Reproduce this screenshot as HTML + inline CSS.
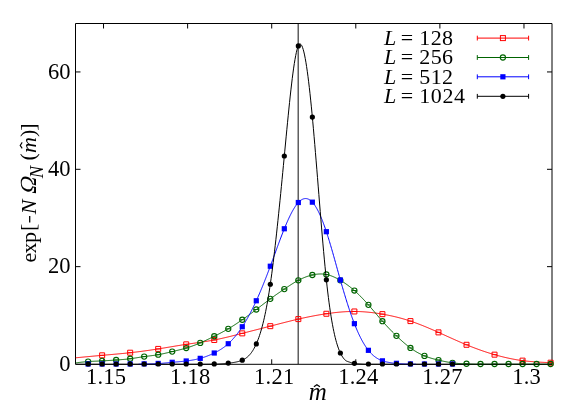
<!DOCTYPE html>
<html><head><meta charset="utf-8"><title>plot</title>
<style>html,body{margin:0;padding:0;background:#fff;overflow:hidden}svg{display:block;will-change:transform}text{font-family:"Liberation Serif",serif}</style>
</head><body>
<svg width="581" height="407" viewBox="0 0 581 407">
<rect width="581" height="407" fill="#fff"/>
<g stroke="#000" stroke-width="1" fill="none">
<path d="M75.50 23.50H552.00V364.30H75.50Z"/>
<path d="M103.53 23.50v5 M103.53 364.30v-5"/>
<path d="M187.62 23.50v5 M187.62 364.30v-5"/>
<path d="M271.71 23.50v5 M271.71 364.30v-5"/>
<path d="M355.79 23.50v5 M355.79 364.30v-5"/>
<path d="M439.88 23.50v5 M439.88 364.30v-5"/>
<path d="M523.97 23.50v5 M523.97 364.30v-5"/>
<path d="M75.50 266.65h5 M552.00 266.65h-5"/>
<path d="M75.50 169.30h5 M552.00 169.30h-5"/>
<path d="M75.50 71.95h5 M552.00 71.95h-5"/>
</g>
<g font-family="'Liberation Serif', serif" font-size="22.5" fill="#000">
<text x="70.6" y="370.60" text-anchor="end">0</text>
<text x="70.6" y="273.25" text-anchor="end">20</text>
<text x="70.6" y="175.90" text-anchor="end">40</text>
<text x="70.6" y="78.55" text-anchor="end">60</text>
<text x="106.13" y="384.2" text-anchor="middle" letter-spacing="0.25">1.15</text>
<text x="190.22" y="384.2" text-anchor="middle" letter-spacing="0.25">1.18</text>
<text x="274.31" y="384.2" text-anchor="middle" letter-spacing="0.25">1.21</text>
<text x="358.39" y="384.2" text-anchor="middle" letter-spacing="0.25">1.24</text>
<text x="442.48" y="384.2" text-anchor="middle" letter-spacing="0.25">1.27</text>
<text x="526.57" y="384.2" text-anchor="middle" letter-spacing="0.25">1.3</text>
</g>
<g font-family="'Liberation Serif', serif" fill="#000">
<text x="308.7" y="400" font-size="25" font-style="italic">m</text>
<path d="M313.9 386.7L316.9 384.8L319.9 386.7" fill="none" stroke="#000" stroke-width="1.3"/>
<g transform="translate(35.6 262.4) rotate(-90)" font-size="22">
<text x="0 8.9 19.4" y="0">exp</text>
<text x="31.3" y="-0.6">[</text>
<path d="M39.9 -5.9H46.5" stroke="#000" stroke-width="1.3" fill="none"/>
<text x="48.2" y="0" font-style="italic">N</text>
<text transform="translate(67.6 0) skewX(-13)" x="0" y="0" font-size="23">Ω</text>
<text x="84.2" y="7.8" font-style="italic" font-size="18.5">N</text>
<text x="102" y="-0.6">(</text>
<text x="109.4" y="0" font-style="italic">m</text>
<path d="M114 -13.4L117 -15.4L120 -13.4" fill="none" stroke="#000" stroke-width="1.1"/>
<text x="125.4" y="-0.6">)</text>
<text x="131.6" y="-0.6">]</text>
</g>
</g>
<g font-family="'Liberation Serif', serif" font-size="22" fill="#000">
<text y="44.5"><tspan x="384.1" font-style="italic">L</tspan><tspan x="400.7">=</tspan><tspan x="419.3" letter-spacing="0.35">128</tspan></text>
<text y="63.7"><tspan x="384.1" font-style="italic">L</tspan><tspan x="400.7">=</tspan><tspan x="419.3" letter-spacing="0.35">256</tspan></text>
<text y="83.7"><tspan x="384.1" font-style="italic">L</tspan><tspan x="400.7">=</tspan><tspan x="419.3" letter-spacing="0.35">512</tspan></text>
<text y="102.7"><tspan x="384.1" font-style="italic">L</tspan><tspan x="400.7">=</tspan><tspan x="419.3" letter-spacing="0.55">1024</tspan></text>
</g>
<path d="M477.3 38.1H528.6 M477.3 35.7v4.8 M528.6 35.7v4.8" stroke="#ff0000" stroke-width="1" fill="none"/>
<rect x="500.40" y="35.60" width="5" height="5" fill="none" stroke="#ff0000" stroke-width="1"/>
<path d="M477.3 57.5H528.6 M477.3 55.1v4.8 M528.6 55.1v4.8" stroke="#006400" stroke-width="1" fill="none"/>
<circle cx="502.90" cy="57.50" r="2.6" fill="none" stroke="#006400" stroke-width="1.1"/>
<path d="M477.3 76.8H528.6 M477.3 74.4v4.8 M528.6 74.4v4.8" stroke="#0000ff" stroke-width="1" fill="none"/>
<rect x="500.30" y="74.20" width="5.2" height="5.2" fill="#0000ff"/>
<path d="M477.3 96.3H528.6 M477.3 93.9v4.8 M528.6 93.9v4.8" stroke="#000000" stroke-width="1" fill="none"/>
<circle cx="502.90" cy="96.30" r="2.6" fill="#000000"/>
<path d="M298.17 23.50V364.00" stroke="#000" stroke-width="0.95" fill="none"/>
<clipPath id="c"><rect x="75.50" y="22.50" width="477.00" height="342.50"/></clipPath>
<path clip-path="url(#c)" d="M75.50,357.82 L76.18,357.76 L76.86,357.69 L77.55,357.63 L78.23,357.56 L78.91,357.50 L79.59,357.43 L80.27,357.37 L80.95,357.30 L81.64,357.24 L82.32,357.17 L83.00,357.11 L83.68,357.04 L84.36,356.98 L85.04,356.92 L85.73,356.85 L86.41,356.79 L87.09,356.72 L87.77,356.66 L88.45,356.59 L89.13,356.53 L89.82,356.47 L90.50,356.40 L91.18,356.34 L91.86,356.28 L92.54,356.21 L93.22,356.15 L93.91,356.09 L94.59,356.02 L95.27,355.96 L95.95,355.90 L96.63,355.84 L97.31,355.77 L98.00,355.71 L98.68,355.65 L99.36,355.59 L100.04,355.53 L100.72,355.47 L101.40,355.41 L102.09,355.35 L102.77,355.28 L103.45,355.22 L104.13,355.16 L104.81,355.10 L105.49,355.04 L106.18,354.98 L106.86,354.92 L107.54,354.87 L108.22,354.81 L108.90,354.75 L109.58,354.69 L110.27,354.63 L110.95,354.57 L111.63,354.51 L112.31,354.45 L112.99,354.38 L113.67,354.32 L114.36,354.26 L115.04,354.20 L115.72,354.14 L116.40,354.08 L117.08,354.02 L117.76,353.95 L118.45,353.89 L119.13,353.83 L119.81,353.76 L120.49,353.70 L121.17,353.63 L121.85,353.57 L122.54,353.50 L123.22,353.44 L123.90,353.37 L124.58,353.30 L125.26,353.23 L125.94,353.16 L126.63,353.09 L127.31,353.02 L127.99,352.95 L128.67,352.88 L129.35,352.80 L130.04,352.73 L130.72,352.65 L131.40,352.58 L132.08,352.50 L132.76,352.42 L133.44,352.34 L134.13,352.26 L134.81,352.18 L135.49,352.10 L136.17,352.02 L136.85,351.94 L137.53,351.85 L138.22,351.77 L138.90,351.68 L139.58,351.59 L140.26,351.51 L140.94,351.42 L141.62,351.33 L142.31,351.24 L142.99,351.15 L143.67,351.06 L144.35,350.96 L145.03,350.87 L145.71,350.78 L146.40,350.68 L147.08,350.59 L147.76,350.49 L148.44,350.39 L149.12,350.29 L149.80,350.19 L150.49,350.10 L151.17,350.00 L151.85,349.89 L152.53,349.79 L153.21,349.69 L153.89,349.59 L154.58,349.48 L155.26,349.38 L155.94,349.27 L156.62,349.17 L157.30,349.06 L157.98,348.95 L158.67,348.84 L159.35,348.74 L160.03,348.63 L160.71,348.52 L161.39,348.41 L162.07,348.29 L162.76,348.18 L163.44,348.07 L164.12,347.96 L164.80,347.85 L165.48,347.73 L166.16,347.62 L166.85,347.51 L167.53,347.39 L168.21,347.28 L168.89,347.17 L169.57,347.05 L170.25,346.94 L170.94,346.82 L171.62,346.71 L172.30,346.60 L172.98,346.48 L173.66,346.37 L174.34,346.25 L175.03,346.14 L175.71,346.03 L176.39,345.92 L177.07,345.80 L177.75,345.69 L178.43,345.58 L179.12,345.47 L179.80,345.36 L180.48,345.25 L181.16,345.14 L181.84,345.03 L182.53,344.92 L183.21,344.81 L183.89,344.71 L184.57,344.60 L185.25,344.50 L185.93,344.39 L186.62,344.29 L187.30,344.19 L187.98,344.08 L188.66,343.98 L189.34,343.88 L190.02,343.78 L190.71,343.68 L191.39,343.58 L192.07,343.48 L192.75,343.39 L193.43,343.29 L194.11,343.19 L194.80,343.09 L195.48,342.99 L196.16,342.89 L196.84,342.80 L197.52,342.70 L198.20,342.60 L198.89,342.50 L199.57,342.40 L200.25,342.30 L200.93,342.20 L201.61,342.09 L202.29,341.99 L202.98,341.89 L203.66,341.78 L204.34,341.68 L205.02,341.57 L205.70,341.46 L206.38,341.35 L207.07,341.24 L207.75,341.13 L208.43,341.01 L209.11,340.90 L209.79,340.78 L210.47,340.66 L211.16,340.54 L211.84,340.42 L212.52,340.29 L213.20,340.17 L213.88,340.04 L214.56,339.91 L215.25,339.78 L215.93,339.64 L216.61,339.50 L217.29,339.36 L217.97,339.22 L218.65,339.08 L219.34,338.93 L220.02,338.79 L220.70,338.64 L221.38,338.49 L222.06,338.34 L222.74,338.18 L223.43,338.03 L224.11,337.87 L224.79,337.71 L225.47,337.55 L226.15,337.39 L226.83,337.23 L227.52,337.07 L228.20,336.90 L228.88,336.74 L229.56,336.57 L230.24,336.41 L230.92,336.24 L231.61,336.07 L232.29,335.90 L232.97,335.73 L233.65,335.56 L234.33,335.38 L235.02,335.21 L235.70,335.04 L236.38,334.87 L237.06,334.69 L237.74,334.52 L238.42,334.34 L239.11,334.17 L239.79,333.99 L240.47,333.82 L241.15,333.64 L241.83,333.47 L242.51,333.29 L243.20,333.12 L243.88,332.94 L244.56,332.77 L245.24,332.59 L245.92,332.42 L246.60,332.25 L247.29,332.07 L247.97,331.90 L248.65,331.72 L249.33,331.55 L250.01,331.37 L250.69,331.20 L251.38,331.02 L252.06,330.85 L252.74,330.67 L253.42,330.50 L254.10,330.33 L254.78,330.15 L255.47,329.98 L256.15,329.80 L256.83,329.63 L257.51,329.45 L258.19,329.28 L258.87,329.10 L259.56,328.93 L260.24,328.75 L260.92,328.58 L261.60,328.40 L262.28,328.23 L262.96,328.05 L263.65,327.88 L264.33,327.70 L265.01,327.53 L265.69,327.35 L266.37,327.17 L267.05,327.00 L267.74,326.82 L268.42,326.65 L269.10,326.47 L269.78,326.29 L270.46,326.11 L271.14,325.94 L271.83,325.76 L272.51,325.58 L273.19,325.41 L273.87,325.23 L274.55,325.05 L275.23,324.87 L275.92,324.70 L276.60,324.52 L277.28,324.34 L277.96,324.16 L278.64,323.99 L279.32,323.81 L280.01,323.63 L280.69,323.46 L281.37,323.28 L282.05,323.11 L282.73,322.93 L283.41,322.76 L284.10,322.58 L284.78,322.41 L285.46,322.24 L286.14,322.06 L286.82,321.89 L287.51,321.72 L288.19,321.55 L288.87,321.38 L289.55,321.21 L290.23,321.04 L290.91,320.87 L291.60,320.70 L292.28,320.54 L292.96,320.37 L293.64,320.21 L294.32,320.04 L295.00,319.88 L295.69,319.72 L296.37,319.56 L297.05,319.40 L297.73,319.24 L298.41,319.08 L299.09,318.93 L299.78,318.77 L300.46,318.62 L301.14,318.47 L301.82,318.32 L302.50,318.17 L303.18,318.02 L303.87,317.87 L304.55,317.72 L305.23,317.58 L305.91,317.43 L306.59,317.29 L307.27,317.15 L307.96,317.01 L308.64,316.87 L309.32,316.73 L310.00,316.60 L310.68,316.46 L311.36,316.33 L312.05,316.20 L312.73,316.07 L313.41,315.94 L314.09,315.81 L314.77,315.68 L315.45,315.56 L316.14,315.43 L316.82,315.31 L317.50,315.19 L318.18,315.07 L318.86,314.95 L319.54,314.84 L320.23,314.72 L320.91,314.61 L321.59,314.50 L322.27,314.38 L322.95,314.28 L323.63,314.17 L324.32,314.06 L325.00,313.96 L325.68,313.85 L326.36,313.75 L327.04,313.65 L327.72,313.55 L328.41,313.46 L329.09,313.36 L329.77,313.27 L330.45,313.18 L331.13,313.09 L331.81,313.00 L332.50,312.91 L333.18,312.83 L333.86,312.75 L334.54,312.67 L335.22,312.59 L335.90,312.52 L336.59,312.44 L337.27,312.37 L337.95,312.30 L338.63,312.24 L339.31,312.17 L339.99,312.11 L340.68,312.05 L341.36,311.99 L342.04,311.94 L342.72,311.89 L343.40,311.84 L344.09,311.80 L344.77,311.75 L345.45,311.71 L346.13,311.67 L346.81,311.64 L347.49,311.61 L348.18,311.58 L348.86,311.55 L349.54,311.53 L350.22,311.51 L350.90,311.50 L351.58,311.48 L352.27,311.47 L352.95,311.47 L353.63,311.46 L354.31,311.47 L354.99,311.47 L355.67,311.48 L356.36,311.49 L357.04,311.50 L357.72,311.52 L358.40,311.54 L359.08,311.56 L359.76,311.59 L360.45,311.62 L361.13,311.66 L361.81,311.69 L362.49,311.73 L363.17,311.78 L363.85,311.82 L364.54,311.87 L365.22,311.93 L365.90,311.98 L366.58,312.04 L367.26,312.10 L367.94,312.16 L368.63,312.23 L369.31,312.30 L369.99,312.37 L370.67,312.45 L371.35,312.53 L372.03,312.61 L372.72,312.69 L373.40,312.78 L374.08,312.86 L374.76,312.95 L375.44,313.05 L376.12,313.14 L376.81,313.24 L377.49,313.34 L378.17,313.45 L378.85,313.55 L379.53,313.66 L380.21,313.77 L380.90,313.88 L381.58,314.00 L382.26,314.11 L382.94,314.23 L383.62,314.35 L384.30,314.48 L384.99,314.60 L385.67,314.73 L386.35,314.86 L387.03,314.99 L387.71,315.13 L388.39,315.26 L389.08,315.40 L389.76,315.54 L390.44,315.69 L391.12,315.83 L391.80,315.98 L392.48,316.13 L393.17,316.29 L393.85,316.44 L394.53,316.60 L395.21,316.76 L395.89,316.93 L396.58,317.09 L397.26,317.26 L397.94,317.44 L398.62,317.61 L399.30,317.79 L399.98,317.97 L400.67,318.15 L401.35,318.34 L402.03,318.53 L402.71,318.72 L403.39,318.91 L404.07,319.11 L404.76,319.31 L405.44,319.51 L406.12,319.72 L406.80,319.93 L407.48,320.14 L408.16,320.35 L408.85,320.57 L409.53,320.79 L410.21,321.02 L410.89,321.24 L411.57,321.47 L412.25,321.71 L412.94,321.94 L413.62,322.18 L414.30,322.43 L414.98,322.67 L415.66,322.92 L416.34,323.17 L417.03,323.42 L417.71,323.68 L418.39,323.94 L419.07,324.20 L419.75,324.46 L420.43,324.72 L421.12,324.99 L421.80,325.26 L422.48,325.53 L423.16,325.81 L423.84,326.08 L424.52,326.36 L425.21,326.64 L425.89,326.92 L426.57,327.21 L427.25,327.49 L427.93,327.78 L428.61,328.07 L429.30,328.36 L429.98,328.65 L430.66,328.94 L431.34,329.23 L432.02,329.53 L432.70,329.83 L433.39,330.12 L434.07,330.42 L434.75,330.72 L435.43,331.02 L436.11,331.33 L436.79,331.63 L437.48,331.93 L438.16,332.24 L438.84,332.54 L439.52,332.85 L440.20,333.15 L440.88,333.46 L441.57,333.77 L442.25,334.08 L442.93,334.38 L443.61,334.69 L444.29,335.00 L444.97,335.31 L445.66,335.62 L446.34,335.93 L447.02,336.24 L447.70,336.55 L448.38,336.85 L449.07,337.16 L449.75,337.47 L450.43,337.78 L451.11,338.08 L451.79,338.39 L452.47,338.70 L453.16,339.00 L453.84,339.31 L454.52,339.61 L455.20,339.92 L455.88,340.22 L456.56,340.52 L457.25,340.82 L457.93,341.12 L458.61,341.42 L459.29,341.72 L459.97,342.01 L460.65,342.31 L461.34,342.60 L462.02,342.90 L462.70,343.19 L463.38,343.48 L464.06,343.77 L464.74,344.05 L465.43,344.34 L466.11,344.62 L466.79,344.90 L467.47,345.18 L468.15,345.46 L468.83,345.73 L469.52,346.01 L470.20,346.28 L470.88,346.55 L471.56,346.82 L472.24,347.08 L472.92,347.35 L473.61,347.61 L474.29,347.87 L474.97,348.13 L475.65,348.38 L476.33,348.64 L477.01,348.89 L477.70,349.14 L478.38,349.39 L479.06,349.64 L479.74,349.88 L480.42,350.12 L481.10,350.36 L481.79,350.60 L482.47,350.84 L483.15,351.07 L483.83,351.30 L484.51,351.53 L485.19,351.76 L485.88,351.99 L486.56,352.21 L487.24,352.43 L487.92,352.65 L488.60,352.87 L489.28,353.08 L489.97,353.29 L490.65,353.50 L491.33,353.71 L492.01,353.92 L492.69,354.12 L493.37,354.32 L494.06,354.52 L494.74,354.72 L495.42,354.91 L496.10,355.10 L496.78,355.29 L497.46,355.48 L498.15,355.67 L498.83,355.85 L499.51,356.03 L500.19,356.21 L500.87,356.38 L501.56,356.56 L502.24,356.73 L502.92,356.89 L503.60,357.06 L504.28,357.22 L504.96,357.38 L505.65,357.54 L506.33,357.70 L507.01,357.85 L507.69,358.00 L508.37,358.15 L509.05,358.30 L509.74,358.44 L510.42,358.58 L511.10,358.72 L511.78,358.85 L512.46,358.99 L513.14,359.12 L513.83,359.25 L514.51,359.37 L515.19,359.50 L515.87,359.62 L516.55,359.74 L517.23,359.85 L517.92,359.97 L518.60,360.08 L519.28,360.18 L519.96,360.29 L520.64,360.38 L521.32,360.48 L522.01,360.57 L522.69,360.66 L523.37,360.74 L524.05,360.82 L524.73,360.90 L525.41,360.98 L526.10,361.05 L526.78,361.12 L527.46,361.19 L528.14,361.26 L528.82,361.33 L529.50,361.39 L530.19,361.45 L530.87,361.51 L531.55,361.57 L532.23,361.62 L532.91,361.68 L533.59,361.73 L534.28,361.78 L534.96,361.83 L535.64,361.88 L536.32,361.93 L537.00,361.97 L537.68,362.02 L538.37,362.06 L539.05,362.11 L539.73,362.15 L540.41,362.19 L541.09,362.23 L541.77,362.27 L542.46,362.30 L543.14,362.34 L543.82,362.38 L544.50,362.41 L545.18,362.44 L545.86,362.48 L546.55,362.51 L547.23,362.54 L547.91,362.58 L548.59,362.61 L549.27,362.65 L549.95,362.68 L550.64,362.72 L551.32,362.75 L552.00,362.77" fill="none" stroke="#ff0000" stroke-width="1" stroke-linejoin="round"/>
<path d="M99.63 352.84h5v5h-5z M99.63 355.34h5" fill="none" stroke="#ff0000" stroke-width="1"/>
<path d="M127.66 350.21h5v5h-5z M127.66 352.71h5" fill="none" stroke="#ff0000" stroke-width="1"/>
<path d="M155.69 346.42h5v5h-5z M155.69 348.92h5" fill="none" stroke="#ff0000" stroke-width="1"/>
<path d="M183.72 341.85h5v5h-5z M183.72 344.35h5" fill="none" stroke="#ff0000" stroke-width="1"/>
<path d="M211.75 337.47h5v5h-5z M211.75 339.97h5" fill="none" stroke="#ff0000" stroke-width="1"/>
<path d="M239.78 330.86h5v5h-5z M239.78 333.36h5" fill="none" stroke="#ff0000" stroke-width="1"/>
<path d="M267.80 323.66h5v5h-5z M267.80 326.16h5" fill="none" stroke="#ff0000" stroke-width="1"/>
<path d="M295.83 316.60h5v5h-5z M295.83 319.10h5" fill="none" stroke="#ff0000" stroke-width="1"/>
<path d="M323.86 311.25h5v5h-5z M323.86 313.75h5" fill="none" stroke="#ff0000" stroke-width="1"/>
<path d="M351.89 308.97h5v5h-5z M351.89 311.47h5" fill="none" stroke="#ff0000" stroke-width="1"/>
<path d="M379.92 311.64h5v5h-5z M379.92 314.14h5" fill="none" stroke="#ff0000" stroke-width="1"/>
<path d="M407.95 318.60h5v5h-5z M407.95 321.10h5" fill="none" stroke="#ff0000" stroke-width="1"/>
<path d="M435.98 329.88h5v5h-5z M435.98 332.38h5" fill="none" stroke="#ff0000" stroke-width="1"/>
<path d="M464.01 342.29h5v5h-5z M464.01 344.79h5" fill="none" stroke="#ff0000" stroke-width="1"/>
<path d="M492.04 352.16h5v5h-5z M492.04 354.66h5" fill="none" stroke="#ff0000" stroke-width="1"/>
<path d="M520.07 358.14h5v5h-5z M520.07 360.64h5" fill="none" stroke="#ff0000" stroke-width="1"/>
<path d="M548.10 360.19h5v5h-5z M548.10 362.69h5" fill="none" stroke="#ff0000" stroke-width="1"/>
<path clip-path="url(#c)" d="M75.50,363.01 L76.18,362.90 L76.86,362.79 L77.55,362.69 L78.23,362.58 L78.91,362.49 L79.59,362.41 L80.27,362.33 L80.95,362.25 L81.64,362.17 L82.32,362.10 L83.00,362.02 L83.68,361.95 L84.36,361.89 L85.04,361.82 L85.73,361.76 L86.41,361.70 L87.09,361.65 L87.77,361.59 L88.45,361.54 L89.13,361.50 L89.82,361.45 L90.50,361.41 L91.18,361.38 L91.86,361.34 L92.54,361.31 L93.22,361.27 L93.91,361.24 L94.59,361.21 L95.27,361.18 L95.95,361.15 L96.63,361.13 L97.31,361.10 L98.00,361.07 L98.68,361.04 L99.36,361.01 L100.04,360.98 L100.72,360.95 L101.40,360.92 L102.09,360.89 L102.77,360.85 L103.45,360.82 L104.13,360.78 L104.81,360.75 L105.49,360.71 L106.18,360.67 L106.86,360.63 L107.54,360.59 L108.22,360.55 L108.90,360.50 L109.58,360.46 L110.27,360.42 L110.95,360.37 L111.63,360.33 L112.31,360.28 L112.99,360.23 L113.67,360.19 L114.36,360.14 L115.04,360.09 L115.72,360.04 L116.40,359.99 L117.08,359.94 L117.76,359.90 L118.45,359.85 L119.13,359.80 L119.81,359.75 L120.49,359.69 L121.17,359.64 L121.85,359.59 L122.54,359.53 L123.22,359.47 L123.90,359.42 L124.58,359.35 L125.26,359.29 L125.94,359.22 L126.63,359.16 L127.31,359.08 L127.99,359.01 L128.67,358.93 L129.35,358.85 L130.04,358.76 L130.72,358.67 L131.40,358.58 L132.08,358.48 L132.76,358.38 L133.44,358.28 L134.13,358.18 L134.81,358.07 L135.49,357.96 L136.17,357.86 L136.85,357.75 L137.53,357.64 L138.22,357.53 L138.90,357.42 L139.58,357.31 L140.26,357.20 L140.94,357.09 L141.62,356.98 L142.31,356.88 L142.99,356.78 L143.67,356.68 L144.35,356.58 L145.03,356.49 L145.71,356.40 L146.40,356.31 L147.08,356.22 L147.76,356.14 L148.44,356.05 L149.12,355.97 L149.80,355.89 L150.49,355.80 L151.17,355.72 L151.85,355.63 L152.53,355.54 L153.21,355.46 L153.89,355.36 L154.58,355.27 L155.26,355.17 L155.94,355.07 L156.62,354.97 L157.30,354.86 L157.98,354.74 L158.67,354.62 L159.35,354.50 L160.03,354.37 L160.71,354.24 L161.39,354.10 L162.07,353.96 L162.76,353.81 L163.44,353.66 L164.12,353.51 L164.80,353.36 L165.48,353.20 L166.16,353.04 L166.85,352.88 L167.53,352.72 L168.21,352.56 L168.89,352.39 L169.57,352.23 L170.25,352.06 L170.94,351.90 L171.62,351.74 L172.30,351.57 L172.98,351.41 L173.66,351.25 L174.34,351.09 L175.03,350.93 L175.71,350.77 L176.39,350.60 L177.07,350.44 L177.75,350.28 L178.43,350.11 L179.12,349.95 L179.80,349.78 L180.48,349.61 L181.16,349.44 L181.84,349.26 L182.53,349.08 L183.21,348.90 L183.89,348.71 L184.57,348.52 L185.25,348.33 L185.93,348.13 L186.62,347.93 L187.30,347.72 L187.98,347.50 L188.66,347.28 L189.34,347.06 L190.02,346.83 L190.71,346.60 L191.39,346.36 L192.07,346.12 L192.75,345.87 L193.43,345.62 L194.11,345.37 L194.80,345.11 L195.48,344.84 L196.16,344.57 L196.84,344.30 L197.52,344.03 L198.20,343.75 L198.89,343.46 L199.57,343.17 L200.25,342.88 L200.93,342.59 L201.61,342.29 L202.29,341.98 L202.98,341.68 L203.66,341.37 L204.34,341.06 L205.02,340.74 L205.70,340.42 L206.38,340.10 L207.07,339.78 L207.75,339.46 L208.43,339.13 L209.11,338.80 L209.79,338.47 L210.47,338.14 L211.16,337.80 L211.84,337.47 L212.52,337.13 L213.20,336.79 L213.88,336.45 L214.56,336.11 L215.25,335.77 L215.93,335.43 L216.61,335.09 L217.29,334.75 L217.97,334.40 L218.65,334.05 L219.34,333.70 L220.02,333.35 L220.70,333.00 L221.38,332.64 L222.06,332.28 L222.74,331.92 L223.43,331.55 L224.11,331.18 L224.79,330.80 L225.47,330.43 L226.15,330.04 L226.83,329.66 L227.52,329.26 L228.20,328.87 L228.88,328.47 L229.56,328.06 L230.24,327.65 L230.92,327.23 L231.61,326.81 L232.29,326.38 L232.97,325.96 L233.65,325.52 L234.33,325.08 L235.02,324.64 L235.70,324.20 L236.38,323.75 L237.06,323.30 L237.74,322.84 L238.42,322.38 L239.11,321.92 L239.79,321.45 L240.47,320.99 L241.15,320.52 L241.83,320.04 L242.51,319.57 L243.20,319.09 L243.88,318.61 L244.56,318.13 L245.24,317.65 L245.92,317.16 L246.60,316.67 L247.29,316.18 L247.97,315.69 L248.65,315.20 L249.33,314.70 L250.01,314.20 L250.69,313.70 L251.38,313.20 L252.06,312.69 L252.74,312.19 L253.42,311.68 L254.10,311.17 L254.78,310.66 L255.47,310.14 L256.15,309.63 L256.83,309.11 L257.51,308.59 L258.19,308.07 L258.87,307.55 L259.56,307.03 L260.24,306.50 L260.92,305.98 L261.60,305.45 L262.28,304.93 L262.96,304.41 L263.65,303.88 L264.33,303.36 L265.01,302.84 L265.69,302.32 L266.37,301.80 L267.05,301.29 L267.74,300.78 L268.42,300.27 L269.10,299.76 L269.78,299.25 L270.46,298.75 L271.14,298.25 L271.83,297.76 L272.51,297.27 L273.19,296.78 L273.87,296.29 L274.55,295.81 L275.23,295.33 L275.92,294.85 L276.60,294.37 L277.28,293.90 L277.96,293.43 L278.64,292.96 L279.32,292.49 L280.01,292.02 L280.69,291.55 L281.37,291.09 L282.05,290.63 L282.73,290.16 L283.41,289.70 L284.10,289.24 L284.78,288.78 L285.46,288.32 L286.14,287.86 L286.82,287.40 L287.51,286.95 L288.19,286.50 L288.87,286.05 L289.55,285.60 L290.23,285.16 L290.91,284.72 L291.60,284.28 L292.28,283.85 L292.96,283.43 L293.64,283.01 L294.32,282.60 L295.00,282.20 L295.69,281.80 L296.37,281.41 L297.05,281.03 L297.73,280.66 L298.41,280.29 L299.09,279.94 L299.78,279.59 L300.46,279.26 L301.14,278.93 L301.82,278.61 L302.50,278.31 L303.18,278.01 L303.87,277.72 L304.55,277.45 L305.23,277.18 L305.91,276.92 L306.59,276.67 L307.27,276.43 L307.96,276.21 L308.64,275.99 L309.32,275.78 L310.00,275.58 L310.68,275.40 L311.36,275.22 L312.05,275.05 L312.73,274.90 L313.41,274.75 L314.09,274.62 L314.77,274.50 L315.45,274.39 L316.14,274.29 L316.82,274.20 L317.50,274.13 L318.18,274.07 L318.86,274.02 L319.54,273.99 L320.23,273.97 L320.91,273.96 L321.59,273.97 L322.27,274.00 L322.95,274.04 L323.63,274.10 L324.32,274.17 L325.00,274.26 L325.68,274.37 L326.36,274.50 L327.04,274.64 L327.72,274.80 L328.41,274.98 L329.09,275.17 L329.77,275.38 L330.45,275.60 L331.13,275.84 L331.81,276.09 L332.50,276.36 L333.18,276.64 L333.86,276.94 L334.54,277.25 L335.22,277.57 L335.90,277.90 L336.59,278.24 L337.27,278.59 L337.95,278.96 L338.63,279.33 L339.31,279.72 L339.99,280.11 L340.68,280.51 L341.36,280.92 L342.04,281.34 L342.72,281.77 L343.40,282.20 L344.09,282.65 L344.77,283.10 L345.45,283.57 L346.13,284.04 L346.81,284.52 L347.49,285.01 L348.18,285.51 L348.86,286.02 L349.54,286.54 L350.22,287.08 L350.90,287.62 L351.58,288.17 L352.27,288.73 L352.95,289.30 L353.63,289.88 L354.31,290.48 L354.99,291.08 L355.67,291.70 L356.36,292.32 L357.04,292.96 L357.72,293.60 L358.40,294.26 L359.08,294.92 L359.76,295.60 L360.45,296.28 L361.13,296.97 L361.81,297.67 L362.49,298.38 L363.17,299.10 L363.85,299.82 L364.54,300.56 L365.22,301.30 L365.90,302.04 L366.58,302.80 L367.26,303.56 L367.94,304.33 L368.63,305.10 L369.31,305.88 L369.99,306.66 L370.67,307.45 L371.35,308.25 L372.03,309.05 L372.72,309.85 L373.40,310.65 L374.08,311.45 L374.76,312.26 L375.44,313.06 L376.12,313.87 L376.81,314.67 L377.49,315.48 L378.17,316.28 L378.85,317.08 L379.53,317.87 L380.21,318.66 L380.90,319.45 L381.58,320.23 L382.26,321.01 L382.94,321.78 L383.62,322.54 L384.30,323.30 L384.99,324.05 L385.67,324.80 L386.35,325.54 L387.03,326.27 L387.71,327.00 L388.39,327.72 L389.08,328.44 L389.76,329.15 L390.44,329.85 L391.12,330.55 L391.80,331.25 L392.48,331.94 L393.17,332.62 L393.85,333.30 L394.53,333.97 L395.21,334.64 L395.89,335.31 L396.58,335.97 L397.26,336.62 L397.94,337.28 L398.62,337.92 L399.30,338.56 L399.98,339.19 L400.67,339.82 L401.35,340.44 L402.03,341.06 L402.71,341.66 L403.39,342.26 L404.07,342.86 L404.76,343.44 L405.44,344.01 L406.12,344.58 L406.80,345.14 L407.48,345.68 L408.16,346.22 L408.85,346.75 L409.53,347.26 L410.21,347.77 L410.89,348.27 L411.57,348.75 L412.25,349.22 L412.94,349.68 L413.62,350.13 L414.30,350.57 L414.98,351.00 L415.66,351.42 L416.34,351.83 L417.03,352.22 L417.71,352.61 L418.39,352.99 L419.07,353.35 L419.75,353.70 L420.43,354.05 L421.12,354.38 L421.80,354.71 L422.48,355.02 L423.16,355.32 L423.84,355.62 L424.52,355.90 L425.21,356.17 L425.89,356.44 L426.57,356.69 L427.25,356.94 L427.93,357.18 L428.61,357.41 L429.30,357.63 L429.98,357.85 L430.66,358.06 L431.34,358.26 L432.02,358.46 L432.70,358.65 L433.39,358.84 L434.07,359.02 L434.75,359.19 L435.43,359.37 L436.11,359.54 L436.79,359.71 L437.48,359.87 L438.16,360.03 L438.84,360.19 L439.52,360.35 L440.20,360.51 L440.88,360.66 L441.57,360.82 L442.25,360.97 L442.93,361.12 L443.61,361.27 L444.29,361.41 L444.97,361.55 L445.66,361.69 L446.34,361.82 L447.02,361.95 L447.70,362.08 L448.38,362.20 L449.07,362.31 L449.75,362.42 L450.43,362.52 L451.11,362.63 L451.79,362.74 L452.47,362.83 L453.16,362.92 L453.84,363.00 L454.52,363.08 L455.20,363.16 L455.88,363.23 L456.56,363.30 L457.25,363.37 L457.93,363.44 L458.61,363.50 L459.29,363.56 L459.97,363.62 L460.65,363.67 L461.34,363.72 L462.02,363.77 L462.70,363.81 L463.38,363.86 L464.06,363.89 L464.74,363.93 L465.43,363.96 L466.11,363.99 L466.79,364.01 L467.47,364.03 L468.15,364.05 L468.83,364.08 L469.52,364.10 L470.20,364.12 L470.88,364.14 L471.56,364.16 L472.24,364.17 L472.92,364.19 L473.61,364.21 L474.29,364.22 L474.97,364.23 L475.65,364.25 L476.33,364.26 L477.01,364.27 L477.70,364.28 L478.38,364.28 L479.06,364.29 L479.74,364.29 L480.42,364.29 L481.10,364.29 L481.79,364.29 L482.47,364.29 L483.15,364.29 L483.83,364.29 L484.51,364.29 L485.19,364.29 L485.88,364.29 L486.56,364.29 L487.24,364.29 L487.92,364.29 L488.60,364.29 L489.28,364.29 L489.97,364.29 L490.65,364.29 L491.33,364.29 L492.01,364.29 L492.69,364.29 L493.37,364.29 L494.06,364.29 L494.74,364.29 L495.42,364.29 L496.10,364.29 L496.78,364.29 L497.46,364.29 L498.15,364.29 L498.83,364.29 L499.51,364.29 L500.19,364.29 L500.87,364.29 L501.56,364.29 L502.24,364.29 L502.92,364.29 L503.60,364.29 L504.28,364.29 L504.96,364.29 L505.65,364.29 L506.33,364.29 L507.01,364.29 L507.69,364.29 L508.37,364.29 L509.05,364.29 L509.74,364.29 L510.42,364.29 L511.10,364.29 L511.78,364.29 L512.46,364.29 L513.14,364.29 L513.83,364.29 L514.51,364.29 L515.19,364.29 L515.87,364.29 L516.55,364.29 L517.23,364.29 L517.92,364.29 L518.60,364.29 L519.28,364.29 L519.96,364.29 L520.64,364.29 L521.32,364.29 L522.01,364.29 L522.69,364.29 L523.37,364.29 L524.05,364.29 L524.73,364.29 L525.41,364.29 L526.10,364.29 L526.78,364.29 L527.46,364.29 L528.14,364.29 L528.82,364.29 L529.50,364.29 L530.19,364.29 L530.87,364.29 L531.55,364.29 L532.23,364.29 L532.91,364.29 L533.59,364.29 L534.28,364.29 L534.96,364.29 L535.64,364.29 L536.32,364.29 L537.00,364.29 L537.68,364.29 L538.37,364.29 L539.05,364.29 L539.73,364.29 L540.41,364.29 L541.09,364.29 L541.77,364.29 L542.46,364.29 L543.14,364.29 L543.82,364.29 L544.50,364.29 L545.18,364.29 L545.86,364.29 L546.55,364.29 L547.23,364.29 L547.91,364.29 L548.59,364.29 L549.27,364.29 L549.95,364.29 L550.64,364.29 L551.32,364.29 L552.00,364.29" fill="none" stroke="#006400" stroke-width="1" stroke-linejoin="round"/>
<circle cx="88.11" cy="361.57" r="2.6" fill="none" stroke="#006400" stroke-width="1.1"/>
<path d="M85.61 361.57h5" stroke="#006400" stroke-width="1" fill="none"/>
<circle cx="102.13" cy="360.89" r="2.6" fill="none" stroke="#006400" stroke-width="1.1"/>
<path d="M99.63 360.89h5" stroke="#006400" stroke-width="1" fill="none"/>
<circle cx="116.14" cy="360.01" r="2.6" fill="none" stroke="#006400" stroke-width="1.1"/>
<path d="M113.64 360.01h5" stroke="#006400" stroke-width="1" fill="none"/>
<circle cx="130.16" cy="358.75" r="2.6" fill="none" stroke="#006400" stroke-width="1.1"/>
<path d="M127.66 358.75h5" stroke="#006400" stroke-width="1" fill="none"/>
<circle cx="144.17" cy="356.61" r="2.6" fill="none" stroke="#006400" stroke-width="1.1"/>
<path d="M141.67 356.61h5" stroke="#006400" stroke-width="1" fill="none"/>
<circle cx="158.19" cy="354.71" r="2.6" fill="none" stroke="#006400" stroke-width="1.1"/>
<path d="M155.69 354.71h5" stroke="#006400" stroke-width="1" fill="none"/>
<circle cx="172.20" cy="351.60" r="2.6" fill="none" stroke="#006400" stroke-width="1.1"/>
<path d="M169.70 351.60h5" stroke="#006400" stroke-width="1" fill="none"/>
<circle cx="186.22" cy="348.05" r="2.6" fill="none" stroke="#006400" stroke-width="1.1"/>
<path d="M183.72 348.05h5" stroke="#006400" stroke-width="1" fill="none"/>
<circle cx="200.23" cy="342.89" r="2.6" fill="none" stroke="#006400" stroke-width="1.1"/>
<path d="M197.73 342.89h5" stroke="#006400" stroke-width="1" fill="none"/>
<circle cx="214.25" cy="336.27" r="2.6" fill="none" stroke="#006400" stroke-width="1.1"/>
<path d="M211.75 336.27h5" stroke="#006400" stroke-width="1" fill="none"/>
<circle cx="228.26" cy="328.83" r="2.6" fill="none" stroke="#006400" stroke-width="1.1"/>
<path d="M225.76 328.83h5" stroke="#006400" stroke-width="1" fill="none"/>
<circle cx="242.28" cy="319.74" r="2.6" fill="none" stroke="#006400" stroke-width="1.1"/>
<path d="M239.78 319.74h5" stroke="#006400" stroke-width="1" fill="none"/>
<circle cx="256.29" cy="309.52" r="2.6" fill="none" stroke="#006400" stroke-width="1.1"/>
<path d="M253.79 309.52h5" stroke="#006400" stroke-width="1" fill="none"/>
<circle cx="270.30" cy="298.87" r="2.6" fill="none" stroke="#006400" stroke-width="1.1"/>
<path d="M267.80 298.87h5" stroke="#006400" stroke-width="1" fill="none"/>
<circle cx="284.32" cy="289.09" r="2.6" fill="none" stroke="#006400" stroke-width="1.1"/>
<path d="M281.82 289.09h5" stroke="#006400" stroke-width="1" fill="none"/>
<circle cx="298.33" cy="280.33" r="2.6" fill="none" stroke="#006400" stroke-width="1.1"/>
<path d="M295.83 280.33h5" stroke="#006400" stroke-width="1" fill="none"/>
<circle cx="312.35" cy="274.98" r="2.6" fill="none" stroke="#006400" stroke-width="1.1"/>
<path d="M309.85 274.98h5" stroke="#006400" stroke-width="1" fill="none"/>
<circle cx="326.36" cy="274.50" r="2.6" fill="none" stroke="#006400" stroke-width="1.1"/>
<path d="M323.86 274.50h5" stroke="#006400" stroke-width="1" fill="none"/>
<circle cx="340.38" cy="280.33" r="2.6" fill="none" stroke="#006400" stroke-width="1.1"/>
<path d="M337.88 280.33h5" stroke="#006400" stroke-width="1" fill="none"/>
<circle cx="354.39" cy="290.55" r="2.6" fill="none" stroke="#006400" stroke-width="1.1"/>
<path d="M351.89 290.55h5" stroke="#006400" stroke-width="1" fill="none"/>
<circle cx="368.41" cy="304.85" r="2.6" fill="none" stroke="#006400" stroke-width="1.1"/>
<path d="M365.91 304.85h5" stroke="#006400" stroke-width="1" fill="none"/>
<circle cx="382.42" cy="321.19" r="2.6" fill="none" stroke="#006400" stroke-width="1.1"/>
<path d="M379.92 321.19h5" stroke="#006400" stroke-width="1" fill="none"/>
<circle cx="396.44" cy="335.84" r="2.6" fill="none" stroke="#006400" stroke-width="1.1"/>
<path d="M393.94 335.84h5" stroke="#006400" stroke-width="1" fill="none"/>
<circle cx="410.45" cy="347.95" r="2.6" fill="none" stroke="#006400" stroke-width="1.1"/>
<path d="M407.95 347.95h5" stroke="#006400" stroke-width="1" fill="none"/>
<circle cx="424.47" cy="355.88" r="2.6" fill="none" stroke="#006400" stroke-width="1.1"/>
<path d="M421.97 355.88h5" stroke="#006400" stroke-width="1" fill="none"/>
<circle cx="438.48" cy="360.11" r="2.6" fill="none" stroke="#006400" stroke-width="1.1"/>
<path d="M435.98 360.11h5" stroke="#006400" stroke-width="1" fill="none"/>
<circle cx="452.50" cy="362.78" r="2.6" fill="none" stroke="#006400" stroke-width="1.1"/>
<path d="M450.00 362.78h5" stroke="#006400" stroke-width="1" fill="none"/>
<circle cx="466.51" cy="363.76" r="2.6" fill="none" stroke="#006400" stroke-width="1.1"/>
<path d="M464.01 363.76h5" stroke="#006400" stroke-width="1" fill="none"/>
<circle cx="480.52" cy="364.00" r="2.6" fill="none" stroke="#006400" stroke-width="1.1"/>
<path d="M478.02 364.00h5" stroke="#006400" stroke-width="1" fill="none"/>
<circle cx="494.54" cy="364.00" r="2.6" fill="none" stroke="#006400" stroke-width="1.1"/>
<path d="M492.04 364.00h5" stroke="#006400" stroke-width="1" fill="none"/>
<circle cx="508.55" cy="364.00" r="2.6" fill="none" stroke="#006400" stroke-width="1.1"/>
<path d="M506.05 364.00h5" stroke="#006400" stroke-width="1" fill="none"/>
<circle cx="522.57" cy="364.00" r="2.6" fill="none" stroke="#006400" stroke-width="1.1"/>
<path d="M520.07 364.00h5" stroke="#006400" stroke-width="1" fill="none"/>
<circle cx="536.58" cy="364.00" r="2.6" fill="none" stroke="#006400" stroke-width="1.1"/>
<path d="M534.08 364.00h5" stroke="#006400" stroke-width="1" fill="none"/>
<circle cx="550.60" cy="364.00" r="2.6" fill="none" stroke="#006400" stroke-width="1.1"/>
<path d="M548.10 364.00h5" stroke="#006400" stroke-width="1" fill="none"/>
<path clip-path="url(#c)" d="M138.57,364.22 L138.96,364.21 L139.36,364.20 L139.76,364.20 L140.15,364.19 L140.55,364.18 L140.95,364.18 L141.35,364.17 L141.74,364.16 L142.14,364.15 L142.54,364.15 L142.93,364.14 L143.33,364.13 L143.73,364.13 L144.12,364.12 L144.52,364.11 L144.92,364.10 L145.31,364.09 L145.71,364.08 L146.11,364.08 L146.51,364.07 L146.90,364.05 L147.30,364.04 L147.70,364.03 L148.09,364.02 L148.49,364.01 L148.89,364.00 L149.28,363.98 L149.68,363.97 L150.08,363.96 L150.48,363.94 L150.87,363.93 L151.27,363.91 L151.67,363.90 L152.06,363.88 L152.46,363.87 L152.86,363.85 L153.25,363.83 L153.65,363.82 L154.05,363.80 L154.45,363.78 L154.84,363.76 L155.24,363.74 L155.64,363.72 L156.03,363.71 L156.43,363.69 L156.83,363.66 L157.22,363.64 L157.62,363.62 L158.02,363.60 L158.42,363.58 L158.81,363.55 L159.21,363.53 L159.61,363.50 L160.00,363.47 L160.40,363.44 L160.80,363.41 L161.19,363.38 L161.59,363.35 L161.99,363.31 L162.39,363.28 L162.78,363.24 L163.18,363.20 L163.58,363.16 L163.97,363.12 L164.37,363.09 L164.77,363.04 L165.16,363.00 L165.56,362.96 L165.96,362.92 L166.35,362.88 L166.75,362.84 L167.15,362.79 L167.55,362.75 L167.94,362.71 L168.34,362.66 L168.74,362.62 L169.13,362.58 L169.53,362.53 L169.93,362.50 L170.32,362.46 L170.72,362.43 L171.12,362.39 L171.52,362.36 L171.91,362.32 L172.31,362.29 L172.71,362.25 L173.10,362.22 L173.50,362.19 L173.90,362.15 L174.29,362.12 L174.69,362.09 L175.09,362.06 L175.49,362.02 L175.88,361.99 L176.28,361.96 L176.68,361.92 L177.07,361.89 L177.47,361.86 L177.87,361.82 L178.26,361.79 L178.66,361.75 L179.06,361.72 L179.46,361.68 L179.85,361.65 L180.25,361.61 L180.65,361.58 L181.04,361.54 L181.44,361.50 L181.84,361.46 L182.23,361.42 L182.63,361.38 L183.03,361.34 L183.43,361.30 L183.82,361.26 L184.22,361.22 L184.62,361.17 L185.01,361.13 L185.41,361.08 L185.81,361.03 L186.20,360.99 L186.60,360.94 L187.00,360.89 L187.40,360.83 L187.79,360.78 L188.19,360.73 L188.59,360.67 L188.98,360.62 L189.38,360.56 L189.78,360.50 L190.17,360.44 L190.57,360.38 L190.97,360.32 L191.36,360.25 L191.76,360.19 L192.16,360.12 L192.56,360.05 L192.95,359.98 L193.35,359.91 L193.75,359.84 L194.14,359.76 L194.54,359.68 L194.94,359.61 L195.33,359.53 L195.73,359.44 L196.13,359.36 L196.53,359.27 L196.92,359.18 L197.32,359.09 L197.72,359.00 L198.11,358.90 L198.51,358.81 L198.91,358.71 L199.30,358.61 L199.70,358.50 L200.10,358.39 L200.50,358.28 L200.89,358.17 L201.29,358.06 L201.69,357.94 L202.08,357.82 L202.48,357.70 L202.88,357.58 L203.27,357.45 L203.67,357.32 L204.07,357.19 L204.47,357.06 L204.86,356.92 L205.26,356.78 L205.66,356.64 L206.05,356.50 L206.45,356.36 L206.85,356.21 L207.24,356.06 L207.64,355.90 L208.04,355.75 L208.44,355.59 L208.83,355.43 L209.23,355.27 L209.63,355.10 L210.02,354.94 L210.42,354.77 L210.82,354.59 L211.21,354.42 L211.61,354.24 L212.01,354.06 L212.41,353.88 L212.80,353.70 L213.20,353.51 L213.60,353.32 L213.99,353.13 L214.39,352.94 L214.79,352.74 L215.18,352.54 L215.58,352.34 L215.98,352.13 L216.37,351.93 L216.77,351.72 L217.17,351.50 L217.57,351.28 L217.96,351.06 L218.36,350.84 L218.76,350.61 L219.15,350.38 L219.55,350.14 L219.95,349.90 L220.34,349.66 L220.74,349.41 L221.14,349.16 L221.54,348.90 L221.93,348.64 L222.33,348.37 L222.73,348.10 L223.12,347.82 L223.52,347.54 L223.92,347.25 L224.31,346.96 L224.71,346.66 L225.11,346.35 L225.51,346.04 L225.90,345.73 L226.30,345.40 L226.70,345.07 L227.09,344.74 L227.49,344.40 L227.89,344.05 L228.28,343.69 L228.68,343.33 L229.08,342.96 L229.48,342.59 L229.87,342.21 L230.27,341.82 L230.67,341.42 L231.06,341.02 L231.46,340.61 L231.86,340.19 L232.25,339.77 L232.65,339.34 L233.05,338.90 L233.45,338.45 L233.84,338.00 L234.24,337.54 L234.64,337.08 L235.03,336.61 L235.43,336.13 L235.83,335.64 L236.22,335.15 L236.62,334.65 L237.02,334.14 L237.41,333.62 L237.81,333.10 L238.21,332.57 L238.61,332.04 L239.00,331.49 L239.40,330.94 L239.80,330.38 L240.19,329.82 L240.59,329.25 L240.99,328.67 L241.38,328.08 L241.78,327.49 L242.18,326.89 L242.58,326.28 L242.97,325.66 L243.37,325.04 L243.77,324.41 L244.16,323.77 L244.56,323.13 L244.96,322.48 L245.35,321.82 L245.75,321.15 L246.15,320.48 L246.55,319.80 L246.94,319.11 L247.34,318.41 L247.74,317.71 L248.13,317.00 L248.53,316.28 L248.93,315.56 L249.32,314.82 L249.72,314.09 L250.12,313.34 L250.52,312.58 L250.91,311.82 L251.31,311.05 L251.71,310.27 L252.10,309.49 L252.50,308.70 L252.90,307.90 L253.29,307.09 L253.69,306.28 L254.09,305.46 L254.49,304.63 L254.88,303.79 L255.28,302.95 L255.68,302.10 L256.07,301.24 L256.47,300.37 L256.87,299.50 L257.26,298.61 L257.66,297.72 L258.06,296.83 L258.46,295.93 L258.85,295.02 L259.25,294.10 L259.65,293.17 L260.04,292.24 L260.44,291.31 L260.84,290.36 L261.23,289.41 L261.63,288.46 L262.03,287.50 L262.42,286.53 L262.82,285.55 L263.22,284.57 L263.62,283.59 L264.01,282.60 L264.41,281.60 L264.81,280.60 L265.20,279.59 L265.60,278.58 L266.00,277.56 L266.39,276.54 L266.79,275.51 L267.19,274.48 L267.59,273.44 L267.98,272.40 L268.38,271.36 L268.78,270.31 L269.17,269.25 L269.57,268.19 L269.97,267.13 L270.36,266.07 L270.76,265.00 L271.16,263.92 L271.56,262.85 L271.95,261.77 L272.35,260.69 L272.75,259.60 L273.14,258.52 L273.54,257.43 L273.94,256.34 L274.33,255.25 L274.73,254.17 L275.13,253.08 L275.53,251.99 L275.92,250.90 L276.32,249.82 L276.72,248.74 L277.11,247.65 L277.51,246.57 L277.91,245.50 L278.30,244.42 L278.70,243.35 L279.10,242.29 L279.50,241.22 L279.89,240.17 L280.29,239.11 L280.69,238.06 L281.08,237.02 L281.48,235.98 L281.88,234.95 L282.27,233.93 L282.67,232.91 L283.07,231.90 L283.47,230.90 L283.86,229.91 L284.26,228.92 L284.66,227.94 L285.05,226.98 L285.45,226.02 L285.85,225.07 L286.24,224.13 L286.64,223.20 L287.04,222.29 L287.43,221.38 L287.83,220.49 L288.23,219.61 L288.63,218.74 L289.02,217.89 L289.42,217.04 L289.82,216.22 L290.21,215.40 L290.61,214.60 L291.01,213.82 L291.40,213.05 L291.80,212.30 L292.20,211.56 L292.60,210.84 L292.99,210.13 L293.39,209.45 L293.79,208.78 L294.18,208.13 L294.58,207.50 L294.98,206.88 L295.37,206.29 L295.77,205.71 L296.17,205.16 L296.57,204.63 L296.96,204.11 L297.36,203.62 L297.76,203.15 L298.15,202.70 L298.55,202.28 L298.95,201.87 L299.34,201.49 L299.74,201.13 L300.14,200.80 L300.54,200.49 L300.93,200.20 L301.33,199.93 L301.73,199.69 L302.12,199.47 L302.52,199.27 L302.92,199.10 L303.31,198.95 L303.71,198.83 L304.11,198.72 L304.51,198.65 L304.90,198.59 L305.30,198.56 L305.70,198.56 L306.09,198.58 L306.49,198.62 L306.89,198.69 L307.28,198.78 L307.68,198.90 L308.08,199.04 L308.47,199.21 L308.87,199.40 L309.27,199.62 L309.67,199.86 L310.06,200.13 L310.46,200.42 L310.86,200.74 L311.25,201.08 L311.65,201.45 L312.05,201.85 L312.44,202.27 L312.84,202.72 L313.24,203.19 L313.64,203.69 L314.03,204.21 L314.43,204.76 L314.83,205.33 L315.22,205.93 L315.62,206.55 L316.02,207.19 L316.41,207.86 L316.81,208.56 L317.21,209.27 L317.61,210.01 L318.00,210.77 L318.40,211.56 L318.80,212.36 L319.19,213.19 L319.59,214.04 L319.99,214.91 L320.38,215.81 L320.78,216.72 L321.18,217.66 L321.58,218.61 L321.97,219.59 L322.37,220.59 L322.77,221.60 L323.16,222.64 L323.56,223.70 L323.96,224.77 L324.35,225.87 L324.75,226.98 L325.15,228.11 L325.55,229.26 L325.94,230.43 L326.34,231.62 L326.74,232.82 L327.13,234.04 L327.53,235.28 L327.93,236.53 L328.32,237.80 L328.72,239.09 L329.12,240.38 L329.52,241.69 L329.91,243.01 L330.31,244.35 L330.71,245.69 L331.10,247.04 L331.50,248.41 L331.90,249.78 L332.29,251.16 L332.69,252.55 L333.09,253.95 L333.48,255.35 L333.88,256.76 L334.28,258.17 L334.68,259.58 L335.07,261.00 L335.47,262.43 L335.87,263.85 L336.26,265.28 L336.66,266.71 L337.06,268.14 L337.45,269.56 L337.85,270.99 L338.25,272.41 L338.65,273.84 L339.04,275.25 L339.44,276.67 L339.84,278.08 L340.23,279.48 L340.63,280.88 L341.03,282.28 L341.42,283.66 L341.82,285.04 L342.22,286.42 L342.62,287.78 L343.01,289.14 L343.41,290.49 L343.81,291.83 L344.20,293.16 L344.60,294.49 L345.00,295.80 L345.39,297.11 L345.79,298.41 L346.19,299.69 L346.59,300.97 L346.98,302.24 L347.38,303.49 L347.78,304.74 L348.17,305.98 L348.57,307.20 L348.97,308.41 L349.36,309.61 L349.76,310.80 L350.16,311.97 L350.56,313.14 L350.95,314.29 L351.35,315.42 L351.75,316.55 L352.14,317.66 L352.54,318.75 L352.94,319.83 L353.33,320.90 L353.73,321.95 L354.13,322.99 L354.52,324.01 L354.92,325.02 L355.32,326.01 L355.72,326.99 L356.11,327.95 L356.51,328.89 L356.91,329.82 L357.30,330.74 L357.70,331.64 L358.10,332.52 L358.49,333.39 L358.89,334.25 L359.29,335.09 L359.69,335.91 L360.08,336.72 L360.48,337.52 L360.88,338.30 L361.27,339.06 L361.67,339.81 L362.07,340.55 L362.46,341.27 L362.86,341.98 L363.26,342.67 L363.66,343.34 L364.05,344.01 L364.45,344.66 L364.85,345.29 L365.24,345.91 L365.64,346.51 L366.04,347.10 L366.43,347.68 L366.83,348.24 L367.23,348.79 L367.63,349.32 L368.02,349.84 L368.42,350.35 L368.82,350.84 L369.21,351.31 L369.61,351.78 L370.01,352.23 L370.40,352.67 L370.80,353.09 L371.20,353.50 L371.60,353.90 L371.99,354.29 L372.39,354.66 L372.79,355.02 L373.18,355.38 L373.58,355.72 L373.98,356.04 L374.37,356.36 L374.77,356.67 L375.17,356.97 L375.57,357.25 L375.96,357.53 L376.36,357.80 L376.76,358.06 L377.15,358.30 L377.55,358.54 L377.95,358.77 L378.34,359.00 L378.74,359.21 L379.14,359.42 L379.53,359.62 L379.93,359.81 L380.33,360.00 L380.73,360.18 L381.12,360.35 L381.52,360.51 L381.92,360.66 L382.31,360.80 L382.71,360.93 L383.11,361.06 L383.50,361.18 L383.90,361.30 L384.30,361.41 L384.70,361.51 L385.09,361.62 L385.49,361.71 L385.89,361.81 L386.28,361.90 L386.68,361.98 L387.08,362.07 L387.47,362.15 L387.87,362.23 L388.27,362.30 L388.67,362.37 L389.06,362.44 L389.46,362.51 L389.86,362.58 L390.25,362.66 L390.65,362.73 L391.05,362.80 L391.44,362.86 L391.84,362.93 L392.24,362.99 L392.64,363.05 L393.03,363.10 L393.43,363.16 L393.83,363.21 L394.22,363.25 L394.62,363.30 L395.02,363.34 L395.41,363.38 L395.81,363.42 L396.21,363.46 L396.61,363.49 L397.00,363.52 L397.40,363.55 L397.80,363.58 L398.19,363.61 L398.59,363.64 L398.99,363.67 L399.38,363.70 L399.78,363.72 L400.18,363.75 L400.58,363.78 L400.97,363.80 L401.37,363.82 L401.77,363.85 L402.16,363.87 L402.56,363.89 L402.96,363.92 L403.35,363.94 L403.75,363.96 L404.15,363.98 L404.54,363.99 L404.94,364.01 L405.34,364.03 L405.74,364.05 L406.13,364.06 L406.53,364.08 L406.93,364.09 L407.32,364.10 L407.72,364.11 L408.12,364.13 L408.51,364.14 L408.91,364.15 L409.31,364.15 L409.71,364.16 L410.10,364.17 L410.50,364.18 L410.90,364.18 L411.29,364.19 L411.69,364.19 L412.09,364.20 L412.48,364.20 L412.88,364.21 L413.28,364.21 L413.68,364.22 L414.07,364.22 L414.47,364.23 L414.87,364.23 L415.26,364.24 L415.66,364.24 L416.06,364.25" fill="none" stroke="#0000ff" stroke-width="1" stroke-linejoin="round"/>
<rect x="85.51" y="361.40" width="5.2" height="5.2" fill="#0000ff"/>
<rect x="99.53" y="361.40" width="5.2" height="5.2" fill="#0000ff"/>
<rect x="113.54" y="361.40" width="5.2" height="5.2" fill="#0000ff"/>
<rect x="127.56" y="361.40" width="5.2" height="5.2" fill="#0000ff"/>
<rect x="141.57" y="361.25" width="5.2" height="5.2" fill="#0000ff"/>
<rect x="155.59" y="360.82" width="5.2" height="5.2" fill="#0000ff"/>
<rect x="169.60" y="359.70" width="5.2" height="5.2" fill="#0000ff"/>
<rect x="183.62" y="358.38" width="5.2" height="5.2" fill="#0000ff"/>
<rect x="197.63" y="355.76" width="5.2" height="5.2" fill="#0000ff"/>
<rect x="211.65" y="350.41" width="5.2" height="5.2" fill="#0000ff"/>
<rect x="225.66" y="341.12" width="5.2" height="5.2" fill="#0000ff"/>
<rect x="239.68" y="324.14" width="5.2" height="5.2" fill="#0000ff"/>
<rect x="253.69" y="298.16" width="5.2" height="5.2" fill="#0000ff"/>
<rect x="267.70" y="263.63" width="5.2" height="5.2" fill="#0000ff"/>
<rect x="281.72" y="226.17" width="5.2" height="5.2" fill="#0000ff"/>
<rect x="295.73" y="199.91" width="5.2" height="5.2" fill="#0000ff"/>
<rect x="309.75" y="199.57" width="5.2" height="5.2" fill="#0000ff"/>
<rect x="323.76" y="229.09" width="5.2" height="5.2" fill="#0000ff"/>
<rect x="337.78" y="277.39" width="5.2" height="5.2" fill="#0000ff"/>
<rect x="351.79" y="321.08" width="5.2" height="5.2" fill="#0000ff"/>
<rect x="365.81" y="347.73" width="5.2" height="5.2" fill="#0000ff"/>
<rect x="379.82" y="358.24" width="5.2" height="5.2" fill="#0000ff"/>
<rect x="393.84" y="360.72" width="5.2" height="5.2" fill="#0000ff"/>
<rect x="407.85" y="361.30" width="5.2" height="5.2" fill="#0000ff"/>
<rect x="421.87" y="361.40" width="5.2" height="5.2" fill="#0000ff"/>
<rect x="435.88" y="361.40" width="5.2" height="5.2" fill="#0000ff"/>
<rect x="449.90" y="361.40" width="5.2" height="5.2" fill="#0000ff"/>
<path clip-path="url(#c)" d="M75.50,364.29 L76.18,364.29 L76.86,364.29 L77.55,364.29 L78.23,364.29 L78.91,364.29 L79.59,364.29 L80.27,364.29 L80.95,364.29 L81.64,364.29 L82.32,364.29 L83.00,364.29 L83.68,364.29 L84.36,364.29 L85.04,364.29 L85.73,364.29 L86.41,364.29 L87.09,364.29 L87.77,364.29 L88.45,364.29 L89.13,364.29 L89.82,364.29 L90.50,364.29 L91.18,364.29 L91.86,364.29 L92.54,364.29 L93.22,364.29 L93.91,364.29 L94.59,364.29 L95.27,364.29 L95.95,364.29 L96.63,364.29 L97.31,364.29 L98.00,364.29 L98.68,364.29 L99.36,364.29 L100.04,364.29 L100.72,364.29 L101.40,364.29 L102.09,364.29 L102.77,364.29 L103.45,364.29 L104.13,364.29 L104.81,364.29 L105.49,364.29 L106.18,364.29 L106.86,364.29 L107.54,364.29 L108.22,364.29 L108.90,364.29 L109.58,364.29 L110.27,364.29 L110.95,364.29 L111.63,364.29 L112.31,364.29 L112.99,364.29 L113.67,364.29 L114.36,364.29 L115.04,364.29 L115.72,364.29 L116.40,364.29 L117.08,364.29 L117.76,364.29 L118.45,364.29 L119.13,364.29 L119.81,364.29 L120.49,364.29 L121.17,364.29 L121.85,364.29 L122.54,364.29 L123.22,364.29 L123.90,364.29 L124.58,364.29 L125.26,364.29 L125.94,364.29 L126.63,364.29 L127.31,364.29 L127.99,364.29 L128.67,364.29 L129.35,364.29 L130.04,364.29 L130.72,364.29 L131.40,364.29 L132.08,364.29 L132.76,364.29 L133.44,364.29 L134.13,364.29 L134.81,364.29 L135.49,364.29 L136.17,364.29 L136.85,364.29 L137.53,364.29 L138.22,364.29 L138.90,364.29 L139.58,364.29 L140.26,364.29 L140.94,364.29 L141.62,364.29 L142.31,364.29 L142.99,364.29 L143.67,364.29 L144.35,364.29 L145.03,364.29 L145.71,364.29 L146.40,364.29 L147.08,364.29 L147.76,364.29 L148.44,364.29 L149.12,364.29 L149.80,364.29 L150.49,364.29 L151.17,364.29 L151.85,364.29 L152.53,364.29 L153.21,364.29 L153.89,364.29 L154.58,364.29 L155.26,364.29 L155.94,364.29 L156.62,364.29 L157.30,364.29 L157.98,364.29 L158.67,364.29 L159.35,364.29 L160.03,364.29 L160.71,364.29 L161.39,364.29 L162.07,364.29 L162.76,364.29 L163.44,364.29 L164.12,364.29 L164.80,364.29 L165.48,364.29 L166.16,364.29 L166.85,364.29 L167.53,364.29 L168.21,364.29 L168.89,364.29 L169.57,364.29 L170.25,364.29 L170.94,364.29 L171.62,364.29 L172.30,364.29 L172.98,364.29 L173.66,364.29 L174.34,364.29 L175.03,364.29 L175.71,364.29 L176.39,364.29 L177.07,364.29 L177.75,364.29 L178.43,364.29 L179.12,364.29 L179.80,364.29 L180.48,364.29 L181.16,364.29 L181.84,364.29 L182.53,364.29 L183.21,364.29 L183.89,364.29 L184.57,364.29 L185.25,364.29 L185.93,364.29 L186.62,364.29 L187.30,364.29 L187.98,364.29 L188.66,364.29 L189.34,364.29 L190.02,364.29 L190.71,364.29 L191.39,364.29 L192.07,364.29 L192.75,364.29 L193.43,364.29 L194.11,364.29 L194.80,364.29 L195.48,364.29 L196.16,364.29 L196.84,364.29 L197.52,364.29 L198.20,364.29 L198.89,364.29 L199.57,364.29 L200.25,364.29 L200.93,364.29 L201.61,364.29 L202.29,364.29 L202.98,364.29 L203.66,364.28 L204.34,364.28 L205.02,364.28 L205.70,364.27 L206.38,364.27 L207.07,364.26 L207.75,364.26 L208.43,364.25 L209.11,364.24 L209.79,364.23 L210.47,364.23 L211.16,364.22 L211.84,364.21 L212.52,364.20 L213.20,364.19 L213.88,364.18 L214.56,364.17 L215.25,364.16 L215.93,364.14 L216.61,364.11 L217.29,364.09 L217.97,364.06 L218.65,364.02 L219.34,363.99 L220.02,363.94 L220.70,363.90 L221.38,363.85 L222.06,363.80 L222.74,363.75 L223.43,363.70 L224.11,363.64 L224.79,363.58 L225.47,363.52 L226.15,363.45 L226.83,363.38 L227.52,363.32 L228.20,363.25 L228.88,363.17 L229.56,363.10 L230.24,363.01 L230.92,362.92 L231.61,362.81 L232.29,362.71 L232.97,362.59 L233.65,362.48 L234.33,362.37 L235.02,362.25 L235.70,362.12 L236.38,361.98 L237.06,361.83 L237.74,361.67 L238.42,361.50 L239.11,361.32 L239.79,361.11 L240.47,360.89 L241.15,360.65 L241.83,360.39 L242.51,360.10 L243.20,359.78 L243.88,359.42 L244.56,359.03 L245.24,358.60 L245.92,358.14 L246.60,357.64 L247.29,357.09 L247.97,356.49 L248.65,355.84 L249.33,355.14 L250.01,354.37 L250.69,353.54 L251.38,352.65 L252.06,351.68 L252.74,350.64 L253.42,349.53 L254.10,348.33 L254.78,347.05 L255.47,345.68 L256.15,344.23 L256.83,342.67 L257.51,341.02 L258.19,339.27 L258.87,337.40 L259.56,335.41 L260.24,333.30 L260.92,331.07 L261.60,328.70 L262.28,326.19 L262.96,323.54 L263.65,320.73 L264.33,317.77 L265.01,314.65 L265.69,311.36 L266.37,307.89 L267.05,304.25 L267.74,300.42 L268.42,296.40 L269.10,292.18 L269.78,287.76 L270.46,283.13 L271.14,278.30 L271.83,273.26 L272.51,268.03 L273.19,262.61 L273.87,257.03 L274.55,251.27 L275.23,245.36 L275.92,239.31 L276.60,233.11 L277.28,226.78 L277.96,220.33 L278.64,213.78 L279.32,207.11 L280.01,200.36 L280.69,193.51 L281.37,186.60 L282.05,179.61 L282.73,172.57 L283.41,165.47 L284.10,158.34 L284.78,151.17 L285.46,144.00 L286.14,136.85 L286.82,129.75 L287.51,122.73 L288.19,115.82 L288.87,109.05 L289.55,102.45 L290.23,96.05 L290.91,89.88 L291.60,83.97 L292.28,78.35 L292.96,73.05 L293.64,68.10 L294.32,63.53 L295.00,59.36 L295.69,55.64 L296.37,52.38 L297.05,49.62 L297.73,47.39 L298.41,45.71 L299.09,44.62 L299.78,44.09 L300.46,44.11 L301.14,44.67 L301.82,45.74 L302.50,47.33 L303.18,49.40 L303.87,51.95 L304.55,54.95 L305.23,58.40 L305.91,62.28 L306.59,66.57 L307.27,71.25 L307.96,76.32 L308.64,81.76 L309.32,87.54 L310.00,93.66 L310.68,100.10 L311.36,106.84 L312.05,113.88 L312.73,121.18 L313.41,128.74 L314.09,136.51 L314.77,144.48 L315.45,152.60 L316.14,160.86 L316.82,169.21 L317.50,177.64 L318.18,186.10 L318.86,194.57 L319.54,203.03 L320.23,211.43 L320.91,219.75 L321.59,227.96 L322.27,236.03 L322.95,243.93 L323.63,251.63 L324.32,259.10 L325.00,266.31 L325.68,273.23 L326.36,279.83 L327.04,286.08 L327.72,292.00 L328.41,297.58 L329.09,302.84 L329.77,307.80 L330.45,312.46 L331.13,316.82 L331.81,320.92 L332.50,324.74 L333.18,328.31 L333.86,331.63 L334.54,334.72 L335.22,337.58 L335.90,340.22 L336.59,342.67 L337.27,344.92 L337.95,346.98 L338.63,348.87 L339.31,350.60 L339.99,352.18 L340.68,353.62 L341.36,354.92 L342.04,356.10 L342.72,357.16 L343.40,358.11 L344.09,358.95 L344.77,359.69 L345.45,360.34 L346.13,360.86 L346.81,361.16 L347.49,361.43 L348.18,361.68 L348.86,361.92 L349.54,362.15 L350.22,362.37 L350.90,362.58 L351.58,362.82 L352.27,363.04 L352.95,363.22 L353.63,363.36 L354.31,363.47 L354.99,363.54 L355.67,363.60 L356.36,363.67 L357.04,363.73 L357.72,363.79 L358.40,363.85 L359.08,363.91 L359.76,363.96 L360.45,364.01 L361.13,364.05 L361.81,364.09 L362.49,364.13 L363.17,364.17 L363.85,364.20 L364.54,364.22 L365.22,364.24 L365.90,364.26 L366.58,364.28 L367.26,364.29 L367.94,364.29 L368.63,364.29 L369.31,364.29 L369.99,364.29 L370.67,364.29 L371.35,364.29 L372.03,364.29 L372.72,364.29 L373.40,364.29 L374.08,364.29 L374.76,364.29 L375.44,364.29 L376.12,364.29 L376.81,364.29 L377.49,364.29 L378.17,364.29 L378.85,364.29 L379.53,364.29 L380.21,364.29 L380.90,364.29 L381.58,364.29 L382.26,364.29 L382.94,364.29 L383.62,364.29 L384.30,364.29 L384.99,364.29 L385.67,364.29 L386.35,364.29 L387.03,364.29 L387.71,364.29 L388.39,364.29 L389.08,364.29 L389.76,364.29 L390.44,364.29 L391.12,364.29 L391.80,364.29 L392.48,364.29 L393.17,364.29 L393.85,364.29 L394.53,364.29 L395.21,364.29 L395.89,364.29 L396.58,364.29 L397.26,364.29 L397.94,364.29 L398.62,364.29 L399.30,364.29 L399.98,364.29 L400.67,364.29 L401.35,364.29 L402.03,364.29 L402.71,364.29 L403.39,364.29 L404.07,364.29 L404.76,364.29 L405.44,364.29 L406.12,364.29 L406.80,364.29 L407.48,364.29 L408.16,364.29 L408.85,364.29 L409.53,364.29 L410.21,364.29 L410.89,364.29 L411.57,364.29 L412.25,364.29 L412.94,364.29 L413.62,364.29 L414.30,364.29 L414.98,364.29 L415.66,364.29 L416.34,364.29 L417.03,364.29 L417.71,364.29 L418.39,364.29 L419.07,364.29 L419.75,364.29 L420.43,364.29 L421.12,364.29 L421.80,364.29 L422.48,364.29 L423.16,364.29 L423.84,364.29 L424.52,364.29 L425.21,364.29 L425.89,364.29 L426.57,364.29 L427.25,364.29 L427.93,364.29 L428.61,364.29 L429.30,364.29 L429.98,364.29 L430.66,364.29 L431.34,364.29 L432.02,364.29 L432.70,364.29 L433.39,364.29 L434.07,364.29 L434.75,364.29 L435.43,364.29 L436.11,364.29 L436.79,364.29 L437.48,364.29 L438.16,364.29 L438.84,364.29 L439.52,364.29 L440.20,364.29 L440.88,364.29 L441.57,364.29 L442.25,364.29 L442.93,364.29 L443.61,364.29 L444.29,364.29 L444.97,364.29 L445.66,364.29 L446.34,364.29 L447.02,364.29 L447.70,364.29 L448.38,364.29 L449.07,364.29 L449.75,364.29 L450.43,364.29 L451.11,364.29 L451.79,364.29 L452.47,364.29 L453.16,364.29 L453.84,364.29 L454.52,364.29 L455.20,364.29 L455.88,364.29 L456.56,364.29 L457.25,364.29 L457.93,364.29 L458.61,364.29 L459.29,364.29 L459.97,364.29 L460.65,364.29 L461.34,364.29 L462.02,364.29 L462.70,364.29 L463.38,364.29 L464.06,364.29 L464.74,364.29 L465.43,364.29 L466.11,364.29 L466.79,364.29 L467.47,364.29 L468.15,364.29 L468.83,364.29 L469.52,364.29 L470.20,364.29 L470.88,364.29 L471.56,364.29 L472.24,364.29 L472.92,364.29 L473.61,364.29 L474.29,364.29 L474.97,364.29 L475.65,364.29 L476.33,364.29 L477.01,364.29 L477.70,364.29 L478.38,364.29 L479.06,364.29 L479.74,364.29 L480.42,364.29 L481.10,364.29 L481.79,364.29 L482.47,364.29 L483.15,364.29 L483.83,364.29 L484.51,364.29 L485.19,364.29 L485.88,364.29 L486.56,364.29 L487.24,364.29 L487.92,364.29 L488.60,364.29 L489.28,364.29 L489.97,364.29 L490.65,364.29 L491.33,364.29 L492.01,364.29 L492.69,364.29 L493.37,364.29 L494.06,364.29 L494.74,364.29 L495.42,364.29 L496.10,364.29 L496.78,364.29 L497.46,364.29 L498.15,364.29 L498.83,364.29 L499.51,364.29 L500.19,364.29 L500.87,364.29 L501.56,364.29 L502.24,364.29 L502.92,364.29 L503.60,364.29 L504.28,364.29 L504.96,364.29 L505.65,364.29 L506.33,364.29 L507.01,364.29 L507.69,364.29 L508.37,364.29 L509.05,364.29 L509.74,364.29 L510.42,364.29 L511.10,364.29 L511.78,364.29 L512.46,364.29 L513.14,364.29 L513.83,364.29 L514.51,364.29 L515.19,364.29 L515.87,364.29 L516.55,364.29 L517.23,364.29 L517.92,364.29 L518.60,364.29 L519.28,364.29 L519.96,364.29 L520.64,364.29 L521.32,364.29 L522.01,364.29 L522.69,364.29 L523.37,364.29 L524.05,364.29 L524.73,364.29 L525.41,364.29 L526.10,364.29 L526.78,364.29 L527.46,364.29 L528.14,364.29 L528.82,364.29 L529.50,364.29 L530.19,364.29 L530.87,364.29 L531.55,364.29 L532.23,364.29 L532.91,364.29 L533.59,364.29 L534.28,364.29 L534.96,364.29 L535.64,364.29 L536.32,364.29 L537.00,364.29 L537.68,364.29 L538.37,364.29 L539.05,364.29 L539.73,364.29 L540.41,364.29 L541.09,364.29 L541.77,364.29 L542.46,364.29 L543.14,364.29 L543.82,364.29 L544.50,364.29 L545.18,364.29 L545.86,364.29 L546.55,364.29 L547.23,364.29 L547.91,364.29 L548.59,364.29 L549.27,364.29 L549.95,364.29 L550.64,364.29 L551.32,364.29 L552.00,364.29" fill="none" stroke="#000000" stroke-width="1" stroke-linejoin="round"/>
<circle cx="88.11" cy="364.00" r="2.6" fill="#000000"/>
<circle cx="102.13" cy="364.00" r="2.6" fill="#000000"/>
<circle cx="116.14" cy="364.00" r="2.6" fill="#000000"/>
<circle cx="130.16" cy="364.00" r="2.6" fill="#000000"/>
<circle cx="144.17" cy="364.00" r="2.6" fill="#000000"/>
<circle cx="158.19" cy="364.00" r="2.6" fill="#000000"/>
<circle cx="172.20" cy="364.00" r="2.6" fill="#000000"/>
<circle cx="186.22" cy="364.00" r="2.6" fill="#000000"/>
<circle cx="200.23" cy="364.00" r="2.6" fill="#000000"/>
<circle cx="214.25" cy="363.90" r="2.6" fill="#000000"/>
<circle cx="228.26" cy="363.12" r="2.6" fill="#000000"/>
<circle cx="242.28" cy="360.21" r="2.6" fill="#000000"/>
<circle cx="256.29" cy="343.91" r="2.6" fill="#000000"/>
<circle cx="270.30" cy="284.23" r="2.6" fill="#000000"/>
<circle cx="284.32" cy="156.00" r="2.6" fill="#000000"/>
<circle cx="298.33" cy="45.88" r="2.6" fill="#000000"/>
<circle cx="312.35" cy="117.09" r="2.6" fill="#000000"/>
<circle cx="326.36" cy="279.85" r="2.6" fill="#000000"/>
<circle cx="340.38" cy="353.01" r="2.6" fill="#000000"/>
<circle cx="354.39" cy="363.32" r="2.6" fill="#000000"/>
<circle cx="368.41" cy="364.00" r="2.6" fill="#000000"/>
<circle cx="382.42" cy="364.00" r="2.6" fill="#000000"/>
<circle cx="396.44" cy="364.00" r="2.6" fill="#000000"/>
<circle cx="410.45" cy="364.00" r="2.6" fill="#000000"/>
<circle cx="424.47" cy="364.00" r="2.6" fill="#000000"/>
<circle cx="438.48" cy="364.00" r="2.6" fill="#000000"/>
<circle cx="452.50" cy="364.00" r="2.6" fill="#000000"/>
</svg>
</body></html>
